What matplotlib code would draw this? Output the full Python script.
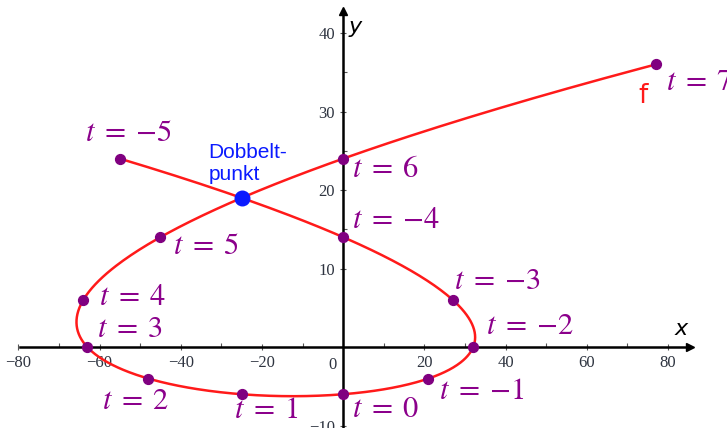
import numpy as np
import matplotlib
matplotlib.use("Agg")
import matplotlib.pyplot as plt

# parameter values of the marked points and their coordinates
t_values = [-5, -4, -3, -2, -1, 0, 1, 2, 3, 4, 5, 6, 7]
x_points = [-55, 0, 27, 32, 21, 0, -25, -48, -63, -64, -45, 0, 77]
y_points = [24, 14, 6, 0, -4, -6, -6, -4, 0, 6, 14, 24, 36]

# f(t) = (t^3 - 2t^2 - 24t, t^2 - t - 6)
x_coeffs = [1, -2, -24, 0]
y_coeffs = [1, -1, -6]
t_range = (-5, 7)

double_point = (-25, 19)

# label anchor (left edge, vertical centre) for each t label
label_x = [-63.5, 2.2, 27.4, 35.2, 23.7, 2.2, -26.9, -59.4, -60.6, -60.1, -41.8, 2.2, 79.5]
label_y = [27.3, 16.2, 8.5, 2.7, -5.5, -7.8, -8.0, -6.8, 2.4, 6.4, 13.0, 22.8, 33.8]

plt.rcParams['mathtext.fontset'] = 'stix'

fig = plt.figure(figsize=(7.27, 4.28), dpi=100)
ax = fig.add_axes([0, 0, 1, 1])
ax.set_xlim(-84.5, 94.5)
ax.set_ylim(-10.3, 44.2)

tt = np.linspace(t_range[0], t_range[1], 600)
ax.plot(np.polyval(x_coeffs, tt), np.polyval(y_coeffs, tt), color='#ff1a1a', lw=1.8, zorder=3)
ax.scatter(x_points, y_points, s=50, color='#800080', zorder=4)
ax.scatter([double_point[0]], [double_point[1]], s=110, color='#0a1aff', zorder=5)

purple = '#8b008b'
for t, lx, ly in zip(t_values, label_x, label_y):
    num = str(abs(t)) if t >= 0 else r'{-}' + str(abs(t))
    ax.text(lx, ly, r'$t\;=\;%s$' % num, color=purple,
            fontsize=22, ha='left', va='center', zorder=6)

ax.text(73.8, 32.0, 'f', color='#ff1a1a', fontsize=19, ha='center', va='center',
        family='DejaVu Sans')
ax.text(-33.2, 20.8, 'Dobbelt-\npunkt', color='#0a1aff', fontsize=15,
        ha='left', va='bottom', linespacing=1.2, family='Liberation Sans')

# axes through the origin
for s in ['top', 'right']:
    ax.spines[s].set_visible(False)
ax.spines['left'].set_position(('data', 0))
ax.spines['bottom'].set_position(('data', 0))
ax.spines['left'].set_bounds(-10.3, 42.5)
ax.spines['bottom'].set_bounds(-79.5, 85)
ax.spines['left'].set_linewidth(1.8)
ax.spines['bottom'].set_linewidth(1.8)
ax.plot(85.5, 0, marker='>', color='black', markersize=6, clip_on=False, zorder=2)
ax.plot(0, 42.8, marker='^', color='black', markersize=6, clip_on=False, zorder=2)

ax.set_xticks([-80, -60, -40, -20, 20, 40, 60, 80])
ax.set_xticks([-70, -50, -30, -10, 10, 30, 50, 70], minor=True)
ax.set_yticks([-10, 10, 20, 30, 40])
ax.set_yticks([15, 25, 35], minor=True)
ax.set_xticklabels(['\u221280', '\u221260', '\u221240', '\u221220', '20', '40', '60', '80'])
ax.set_yticklabels(['\u221210', '10', '20', '30', '40'])
ax.tick_params(axis='both', which='major', direction='inout', color='#555555', width=0.8,
               labelsize=12, labelcolor='#2e3440', length=5)
ax.tick_params(axis='both', which='minor', direction='in', color='#555555', width=0.8,
               length=3)
for lab in ax.get_xticklabels() + ax.get_yticklabels():
    lab.set_family('Liberation Serif')
ax.text(-1.5, -1.2, '0', fontsize=12, color='#2e3440', ha='right', va='top',
        family='Liberation Serif')

ax.text(83.3, 1.0, 'x', fontsize=16, style='italic', ha='center', va='bottom',
        family='DejaVu Sans')
ax.text(1.2, 40.8, 'y', fontsize=16, style='italic', ha='left', va='center',
        family='DejaVu Sans')

fig.savefig('out.png', dpi=100)
